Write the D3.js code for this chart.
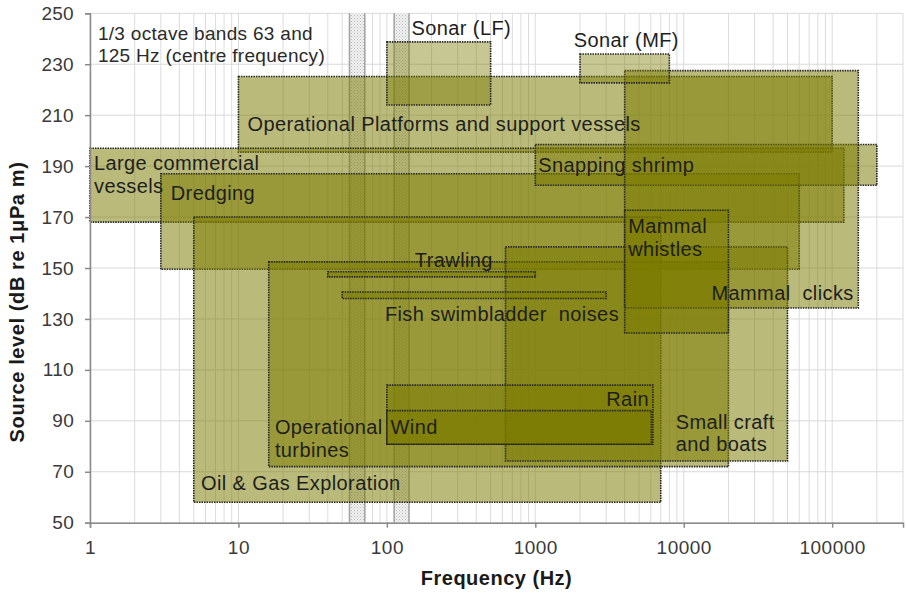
<!DOCTYPE html>
<html><head><meta charset="utf-8">
<script src="https://cdn.jsdelivr.net/npm/d3@7"></script>
<style>
html,body{margin:0;padding:0;background:#fff;}
svg{display:block;font-family:"Liberation Sans",Arial,sans-serif;}
</style></head>
<body><svg id="chart" width="906" height="595"></svg>
<script>
// ---- data ----
const categories = ["Operational Platforms and support vessels","Large commercial vessels","Dredging","Oil & Gas Exploration","Operational turbines","Small craft and boats","Snapping shrimp","Mammal clicks","Mammal whistles","Sonar (LF)","Sonar (MF)","Trawling","Fish swimbladder noises","Rain","Wind"];
const freqLow  = [10, 1, 3, 5, 16, 630, 1000, 4000, 4000, 100, 2000, 40, 50, 100, 100];
const freqHigh = [100000, 120000, 60000, 7000, 20000, 50000, 200000, 150000, 20000, 500, 8000, 1000, 3000, 6200, 6050];
const levelLow  = [195.5, 168, 149.5, 58, 72, 74.2, 182.5, 134.3, 124.5, 214, 222.7, 146.5, 138, 80.8, 80.8];
const levelHigh = [225.2, 197, 187, 170, 152.4, 158.3, 198.5, 227.5, 172.7, 238.8, 234, 148.5, 140.6, 104, 94];
// label text lines and anchors (data units)
const labelLines = [["Operational Platforms and support vessels"],["Large commercial","vessels"],["Dredging"],["Oil & Gas Exploration"],["Operational","turbines"],["Small craft","and boats"],["Snapping shrimp"],["Mammal  clicks"],["Mammal","whistles"],["Sonar (LF)"],["Sonar (MF)"],["Trawling"],["Fish swimbladder  noises"],["Rain"],["Wind"]];
const labelFreq  = [11.5, 1.064, 3.5, 5.59, 17.6, 8838, 1045, 15370, 4220, 146.6, 1816, 154.4, 97, 5836, 105.9];
const labelLevel = [203.9, 188.4, 176.6, 62.7, 84.7, 86.9, 187.5, 137.3, 163.6, 241.5, 236.9, 150.4, 129.1, 95.8, 85];
const labelAnchor = ["start","start","start","start","start","start","start","start","start","start","start","start","start","end","start"];
const noteLines = ["1/3 octave bands 63 and","125 Hz (centre frequency)"];
const noteFreq = 1.13, noteLevel = 239.5;
const bandCentre = [63, 125];
const bandLow = [56, 112];
const bandHigh = [71, 141];
const xTickValues = [1, 10, 100, 1000, 10000, 100000];
const xTickLabels = ["1","10","100","1000","10000","100000"];
const yTickValues = [50, 70, 90, 110, 130, 150, 170, 190, 210, 230, 250];
const xDomain = [1, 300000];
const yDomain = [50, 250];

// ---- layout ----
const L = 90, R = 903, T = 13.3, B = 522.7;
const svg = d3.select("#chart");
const x = d3.scaleLog().domain(xDomain).range([L, R]);
const y = d3.scaleLinear().domain(yDomain).range([B, T]);

const defs = svg.append("defs");
const pat = defs.append("pattern").attr("id","hatch").attr("patternUnits","userSpaceOnUse").attr("width",3).attr("height",3);
pat.append("rect").attr("width",3).attr("height",3).attr("fill","#f2f2f2");
pat.append("rect").attr("width",1).attr("height",1).attr("fill","#b8b8b8");
pat.append("rect").attr("x",1.5).attr("y",1.5).attr("width",1).attr("height",1).attr("fill","#c8c8c8");

// gridlines
const minor = [];
for (let e = 0; e <= 5; e++) for (let m = 1; m <= 9; m++) { const v = m * Math.pow(10, e); if (v <= xDomain[1]) minor.push(v); }
svg.append("g").selectAll("line").data(minor).join("line")
  .attr("x1", d => x(d)).attr("x2", d => x(d)).attr("y1", T).attr("y2", B)
  .attr("stroke", "#dcdcdc").attr("stroke-width", 1);
svg.append("g").selectAll("line").data(yTickValues).join("line")
  .attr("x1", L).attr("x2", R).attr("y1", d => y(d)).attr("y2", d => y(d))
  .attr("stroke", "#d9d9d9").attr("stroke-width", 1);

// third-octave bands
const bands = svg.append("g");
bandCentre.forEach((c, i) => {
  bands.append("rect").attr("x", x(bandLow[i])).attr("y", T).attr("width", x(bandHigh[i]) - x(bandLow[i])).attr("height", B - T)
    .attr("fill", "url(#hatch)");
  [bandLow[i], bandHigh[i]].forEach(f => bands.append("line").attr("x1", x(f)).attr("x2", x(f)).attr("y1", T).attr("y2", B)
    .attr("stroke", "#a6a6a6").attr("stroke-width", 1.6));
});

// source boxes
const boxes = svg.append("g");
categories.forEach((c, i) => {
  const isSonar = c.startsWith("Sonar");
  boxes.append("rect")
    .attr("x", x(freqLow[i])).attr("y", y(levelHigh[i]))
    .attr("width", x(freqHigh[i]) - x(freqLow[i]))
    .attr("height", y(levelLow[i]) - y(levelHigh[i]))
    .attr("fill", "rgb(122,122,0)").attr("fill-opacity", isSonar ? 0.42 : 0.52)
    .attr("stroke", "#262626").attr("stroke-width", 1.6).attr("stroke-dasharray", "1.5,1");
});

// axes
const xAxis = d3.axisBottom(x).tickValues(xTickValues).tickFormat((d, i) => xTickLabels[i]).tickSize(5).tickPadding(9);
const gx = svg.append("g").attr("transform", `translate(0,${B})`).call(xAxis);
gx.select(".domain").attr("stroke", "#8a8a8a").attr("stroke-width", 1.5);
gx.selectAll(".tick line").attr("stroke", "#8a8a8a").attr("stroke-width", 1.5);
gx.selectAll(".tick text").attr("font-size", 19).attr("fill", "#3a3a3a").attr("font-family", "Liberation Sans").attr("letter-spacing", "0.5px").attr("dy", "0.9em");
const yAxis = d3.axisLeft(y).tickValues(yTickValues).tickSize(5).tickPadding(11);
const gy = svg.append("g").attr("transform", `translate(${L},0)`).call(yAxis);
gy.select(".domain").attr("stroke", "#8a8a8a").attr("stroke-width", 1.5);
gy.selectAll(".tick line").attr("stroke", "#8a8a8a").attr("stroke-width", 1.5);
gy.selectAll(".tick text").attr("font-size", 19).attr("fill", "#3a3a3a").attr("font-family", "Liberation Sans").attr("letter-spacing", "0.3px");

// labels
const labels = svg.append("g").attr("font-size", 20).attr("fill", "#1e1e1e").attr("letter-spacing", "0.4px");
categories.forEach((c, i) => {
  const t = labels.append("text").attr("x", x(labelFreq[i])).attr("y", y(labelLevel[i])).attr("text-anchor", labelAnchor[i]).style("white-space", "pre");
  labelLines[i].forEach((ln, j) => t.append("tspan").attr("x", x(labelFreq[i])).attr("dy", j === 0 ? 0 : "1.12em").text(ln));
});
const note = labels.append("text").attr("x", x(noteFreq)).attr("y", y(noteLevel)).attr("font-size", 19).attr("fill", "#2a2a2a").attr("letter-spacing", "0.3px");
noteLines.forEach((ln, j) => note.append("tspan").attr("x", x(noteFreq)).attr("dy", j === 0 ? 0 : "1.15em").text(ln));

// axis titles
svg.append("text").attr("x", (L + R) / 2).attr("y", 585).attr("text-anchor", "middle")
  .attr("font-size", 20).attr("font-weight", "bold").attr("fill", "#1a1a1a").attr("letter-spacing", "0.5px").text("Frequency (Hz)");
svg.append("text").attr("transform", "translate(24,302) rotate(-90)").attr("text-anchor", "middle")
  .attr("font-size", 20).attr("font-weight", "bold").attr("fill", "#1a1a1a").attr("letter-spacing", "0.6px").text("Source level (dB re 1μPa m)");
</script></body></html>
